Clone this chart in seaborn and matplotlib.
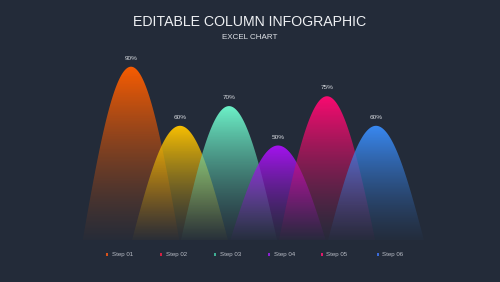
import numpy as np
import pandas as pd
import seaborn as sns
import matplotlib
matplotlib.use("Agg")
import matplotlib.pyplot as plt
from matplotlib.colors import to_rgb

# ---- data ----
steps = ["Step 01", "Step 02", "Step 03", "Step 04", "Step 05", "Step 06"]
values = [90, 60, 70, 50, 75, 60]
peak_colors = ["#ff5e00", "#ffc400", "#6ff7cc", "#a812f5", "#ff0a72", "#3a8cf8"]
legend_colors = ["#d8521a", "#d42042", "#3fae94", "#8a22d0", "#e01a6a", "#3a6ad8"]
title = "EDITABLE COLUMN INFOGRAPHIC"
subtitle = "EXCEL CHART"

BG = "#232b39"
W, H, DPI = 500, 282, 100

sns.set_theme(style="dark")
plt.rcParams["font.family"] = ["Liberation Sans", "DejaVu Sans"]

fig = plt.figure(figsize=(W / DPI, H / DPI), dpi=DPI, facecolor=BG)
ax = fig.add_axes([0, 0, 1, 1])
ax.set_facecolor(BG)

# pixel mapping: x index i -> 131 + 49 i ; value v -> 244 - 1.97 v (from top)
x0, dx = 131.0, 49.0
y0, dy = 244.0, 1.97
ax.set_xlim((0 - x0) / dx, (W - x0) / dx)
ax.set_ylim((y0 - H) / dy, y0 / dy)
ax.set_axis_off()

half_w = 1.0  # half base width of each hump, in category units
base = 2.0
bg_rgb = np.array(to_rgb(BG))

df = pd.DataFrame({"step": steps, "value": values, "pos": np.arange(len(steps))})

for i, row in df.iterrows():
    v = row["value"]
    c = np.array(to_rgb(peak_colors[i]))
    u = np.linspace(-1, 1, 400)
    xs = row["pos"] + half_w * u
    ys = v * np.cos(np.pi * u / 2)
    poly = ax.fill_between(xs, base, np.maximum(ys, base), color="none", lw=0)
    n = 256
    t = np.linspace(0, 1, n)[:, None]  # 0 bottom, 1 top
    alpha = 0.04 + 0.94 * t ** 1.0
    dark = 0.5 + 0.5 * t ** 0.8
    rgb = c[None, :] * dark + bg_rgb[None, :] * (1 - dark)
    img = np.zeros((n, 1, 4))
    img[:, 0, :3] = rgb
    img[:, 0, 3] = alpha[:, 0]
    im = ax.imshow(img, extent=[xs[0], xs[-1], base, v], origin="lower",
                   aspect="auto", interpolation="bicubic", zorder=2 + i)
    im.set_clip_path(poly.get_paths()[0], transform=ax.transData)
    poly.remove()
    ax.text(row["pos"], v + 3.0, f"{v}%", ha="center", va="bottom",
            color="#d8dbe0", fontsize=4.6, zorder=20)

# legend row
leg_x = [107, 161, 215, 269, 322, 378]
leg_y = 254.5
leg = pd.DataFrame({"x": [(p - x0) / dx for p in leg_x],
                    "y": [(y0 - leg_y) / dy] * len(steps),
                    "step": steps})
sns.scatterplot(data=leg, x="x", y="y", hue="step", palette=legend_colors,
                marker="s", s=3.5, linewidth=0, legend=False, ax=ax, zorder=21)
for _, r in leg.iterrows():
    ax.text(r["x"] + 4.5 / dx, r["y"], r["step"], ha="left", va="center",
            color="#b9bdc6", fontsize=4.4, zorder=21)

fig.text(0.5, 1 - 22 / H, title, ha="center", va="center", color="#eef0f3",
         fontsize=10.2)
fig.text(0.5, 1 - 37.5 / H, subtitle, ha="center", va="center", color="#dfe2e7",
         fontsize=5.8)

fig.savefig("out.png", dpi=DPI, facecolor=BG)
